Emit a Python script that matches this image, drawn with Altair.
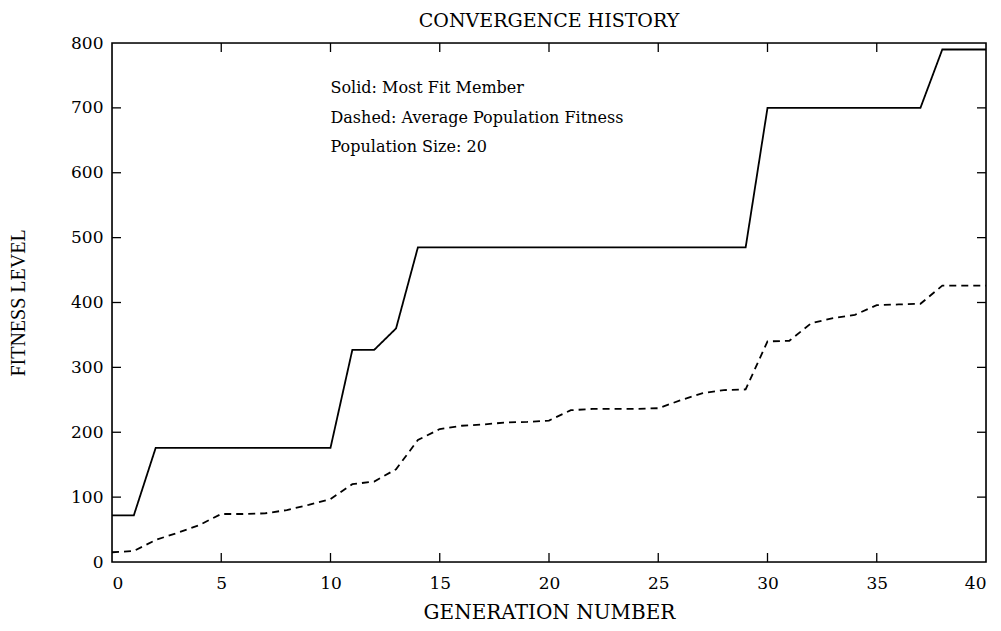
import altair as alt
import pandas as pd

# ---- data ----
generations = list(range(0, 41))
most_fit = [72, 72, 176, 176, 176, 176, 176, 176, 176, 176, 176,
            327, 327, 360, 485, 485, 485, 485, 485, 485, 485,
            485, 485, 485, 485, 485, 485, 485, 485, 485, 700,
            700, 700, 700, 700, 700, 700, 700, 790, 790, 790]
avg_fitness = [15, 17, 34, 45, 57, 74, 74, 75, 80, 88, 97,
               120, 124, 143, 188, 205, 210, 212, 215, 216, 218,
               234, 236, 236, 236, 237, 249, 260, 265, 266, 340,
               341, 368, 376, 381, 396, 397, 398, 426, 426, 426]
series_names = ["Most Fit Member", "Average Population Fitness"]

x_ticks = [0, 5, 10, 15, 20, 25, 30, 35, 40]
y_ticks = [0, 100, 200, 300, 400, 500, 600, 700, 800]
x_inner_ticks = [5, 10, 15, 20, 25, 30, 35]
y_inner_ticks = [100, 200, 300, 400, 500, 600, 700]

chart_title = "CONVERGENCE HISTORY"
note_lines = ["Solid: Most Fit Member",
              "Dashed: Average Population Fitness",
              "Population Size: 20"]
note_x = [10, 10, 10]
note_y = [730, 685, 639]

W, H = 874, 519
SERIF = "DejaVu Serif"

df = pd.DataFrame({
    "gen": generations * 2,
    "fitness": most_fit + avg_fitness,
    "series": [series_names[0]] * len(generations) + [series_names[1]] * len(generations),
})
notes = pd.DataFrame({"x": note_x, "y": note_y, "t": note_lines})
xt = pd.DataFrame({"v": x_inner_ticks})
yt = pd.DataFrame({"v": y_inner_ticks})
one = pd.DataFrame({"t": [chart_title]})

xscale = alt.Scale(domain=[0, 40], nice=False)
yscale = alt.Scale(domain=[0, 800], nice=False)

xaxis = alt.Axis(values=x_ticks, grid=False, domain=False, ticks=False,
                 labelFont=SERIF, labelFontSize=17, labelColor="black",
                 labelPadding=13, title="GENERATION NUMBER", titleFont=SERIF,
                 titleFontSize=20, titleFontWeight="normal", titleColor="black",
                 titlePadding=11)
yaxis = alt.Axis(values=y_ticks, grid=False, domain=False, ticks=False,
                 labelFont=SERIF, labelFontSize=17, labelColor="black",
                 labelPadding=9, title="FITNESS LEVEL", titleFont="Liberation Serif",
                 titleFontSize=20, titleFontWeight="normal", titleColor="black",
                 titlePadding=42)

lines = alt.Chart(df).mark_line(color="black", strokeWidth=1.8).encode(
    x=alt.X("gen:Q", scale=xscale, axis=xaxis),
    y=alt.Y("fitness:Q", scale=yscale, axis=yaxis),
    strokeDash=alt.StrokeDash("series:N",
                              scale=alt.Scale(domain=series_names, range=[[1, 0], [7, 5]]),
                              legend=None),
    detail="series:N",
)

text = alt.Chart(notes).mark_text(align="left", baseline="middle", font=SERIF,
                                  fontSize=16, color="black").encode(
    x=alt.X("x:Q", scale=xscale), y=alt.Y("y:Q", scale=yscale), text="t:N")

title = alt.Chart(one).mark_text(align="center", baseline="middle", font=SERIF,
                                 fontSize=19, color="black").encode(
    x=alt.value(W / 2), y=alt.value(-22), text="t:N")

frame = alt.Chart(one).mark_rect(fill=None, stroke="black", strokeWidth=1.6).encode(
    x=alt.value(0), x2=alt.value(W), y=alt.value(0), y2=alt.value(H))

tk = dict(color="black", strokeWidth=1.3)
t_bottom = alt.Chart(xt).mark_rule(**tk).encode(
    x=alt.X("v:Q", scale=xscale), y=alt.value(H), y2=alt.value(H - 9))
t_top = alt.Chart(xt).mark_rule(**tk).encode(
    x=alt.X("v:Q", scale=xscale), y=alt.value(0), y2=alt.value(9))
t_left = alt.Chart(yt).mark_rule(**tk).encode(
    y=alt.Y("v:Q", scale=yscale), x=alt.value(0), x2=alt.value(9))
t_right = alt.Chart(yt).mark_rule(**tk).encode(
    y=alt.Y("v:Q", scale=yscale), x=alt.value(W), x2=alt.value(W - 9))

chart = alt.layer(lines, text, title, frame, t_bottom, t_top, t_left, t_right).properties(
    width=W, height=H,
    padding={"left": 104, "top": 35, "right": 7, "bottom": 61},
    autosize=alt.AutoSizeParams(type="none"),
).configure_view(stroke=None).configure(background="white")

chart.save("out.html", embed_options={"renderer": "svg", "actions": False})
